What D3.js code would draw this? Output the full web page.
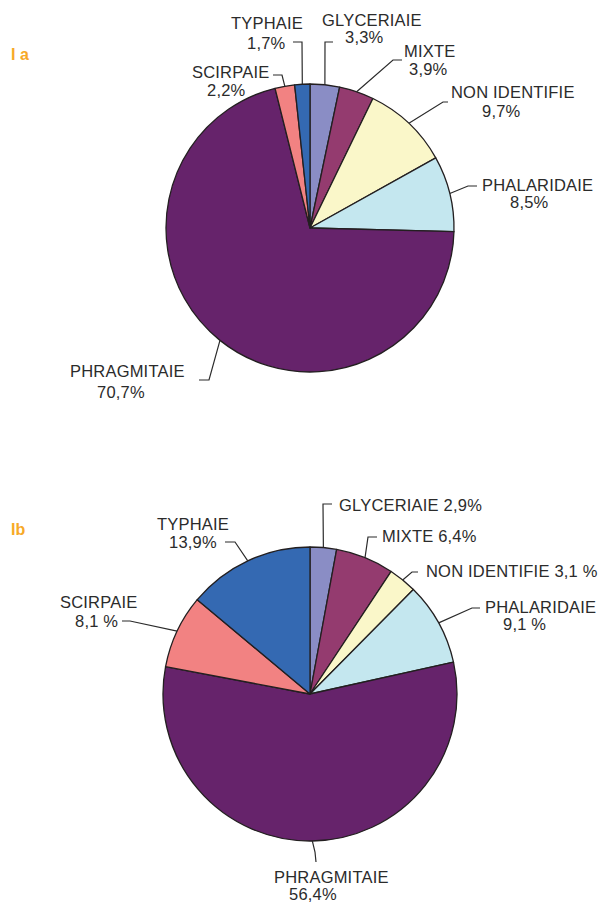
<!DOCTYPE html>
<html>
<head>
<meta charset="utf-8">
<script src="https://cdn.jsdelivr.net/npm/d3@7"></script>
<style>
  body { margin: 0; background: #fff; }
  svg text { font-family: "Liberation Sans", Arial, sans-serif; }
</style>
</head>
<body>
<div id="chart"></div>
<script>
// categories, clockwise from 12 o'clock
const categories = ['GLYCERIAIE', 'MIXTE', 'NON IDENTIFIE', 'PHALARIDAIE', 'PHRAGMITAIE', 'SCIRPAIE', 'TYPHAIE'];
const valuesA = [3.3, 3.9, 9.7, 8.5, 70.7, 2.2, 1.7];
const valuesB = [2.9, 6.4, 3.1, 9.1, 56.4, 8.1, 13.9];
const pctLabelsA = ['3,3%', '3,9%', '9,7%', '8,5%', '70,7%', '2,2%', '1,7%'];
const pctLabelsB = ['2,9%', '6,4%', '3,1 %', '9,1 %', '56,4%', '8,1 %', '13,9%'];

const colors = {
  'GLYCERIAIE': '#8a8dc5',
  'MIXTE': '#943b6f',
  'NON IDENTIFIE': '#faf7c9',
  'PHALARIDAIE': '#c4e7ef',
  'PHRAGMITAIE': '#66236b',
  'SCIRPAIE': '#f28282',
  'TYPHAIE': '#3469b2'
};

const width = 602;
const height = 904;

const svg = d3.select('#chart')
  .append('svg')
  .attr('width', width)
  .attr('height', height);

// label placement: text lines [dx-from-left, baseline] + leader elbow points, last point is on the arc
const layoutA = [
  { lines: [[322, 26, 0], [345, 43, 1]], leader: [[333, 42], [325, 42]] },
  { lines: [[404, 57, 0], [409, 75, 1]], leader: [[402, 60], [393, 60]] },
  { lines: [[451, 98, 0], [482, 117, 1]], leader: [[448, 102], [443, 102]] },
  { lines: [[482, 191, 0], [510, 208, 1]], leader: [[477, 186], [468, 186]] },
  { lines: [[70, 377, 0], [97, 398, 1]], leader: [[199, 380], [209, 380]] },
  { lines: [[192, 78, 0], [207, 96, 1]], leader: [[273, 75], [282, 75]] },
  { lines: [[231, 29, 0], [247, 49, 1]], leader: [[293, 42], [302, 42]] }
];

const layoutB = [
  { lines: [[339, 511, 2]], leader: [[332, 504], [323, 504]] },
  { lines: [[382, 542, 2]], leader: [[377, 537], [368, 537]] },
  { lines: [[426, 577, 2]], leader: [[418, 572], [412, 572]] },
  { lines: [[485, 613, 0], [503, 630, 1]], leader: [[480, 608], [472, 608]] },
  { lines: [[274, 883, 0], [289, 900, 1]], leader: [[316, 862], [315, 852]] },
  { lines: [[60, 608, 0], [75, 627, 1]], leader: [[122, 621], [130, 621]] },
  { lines: [[157, 530, 0], [169, 548, 1]], leader: [[225, 542], [235, 542]] }
];

function drawPie(values, pctLabels, layout, cx, cy, r, tag, tagY) {
  const pie = d3.pie().sort(null).value(d => d)(values);
  const arc = d3.arc().innerRadius(0).outerRadius(r);

  const g = svg.append('g').attr('transform', `translate(${cx},${cy})`);

  g.selectAll('path')
    .data(pie)
    .enter().append('path')
    .attr('d', arc)
    .attr('fill', (d, i) => colors[categories[i]])
    .attr('stroke', '#231f20')
    .attr('stroke-width', 1.3)
    .attr('stroke-linejoin', 'round');

  // leader lines, ending on the middle of each slice's rim
  pie.forEach((d, i) => {
    const mid = (d.startAngle + d.endAngle) / 2;
    const end = [cx + r * Math.sin(mid), cy - r * Math.cos(mid)];
    const pts = layout[i].leader.concat([end]);
    svg.append('path')
      .attr('d', d3.line()(pts))
      .attr('fill', 'none')
      .attr('stroke', '#2b2b2b')
      .attr('stroke-width', 1.2);

    layout[i].lines.forEach(([x, y, kind]) => {
      let txt = categories[i];
      if (kind === 1) txt = pctLabels[i];
      if (kind === 2) txt = categories[i] + ' ' + pctLabels[i];
      svg.append('text')
        .attr('x', x)
        .attr('y', y)
        .attr('font-size', '16.5px')
        .attr('letter-spacing', '0.2px')
        .attr('fill', '#2b2b2b')
        .text(txt);
    });
  });

  svg.append('text')
    .attr('x', 11)
    .attr('y', tagY)
    .attr('font-size', '16px')
    .attr('font-weight', 'bold')
    .attr('fill', '#f7a928')
    .text(tag);
}

drawPie(valuesA, pctLabelsA, layoutA, 310, 228, 144, 'I a', 60);
drawPie(valuesB, pctLabelsB, layoutB, 310, 694, 147, 'Ib', 535);
</script>
</body>
</html>
